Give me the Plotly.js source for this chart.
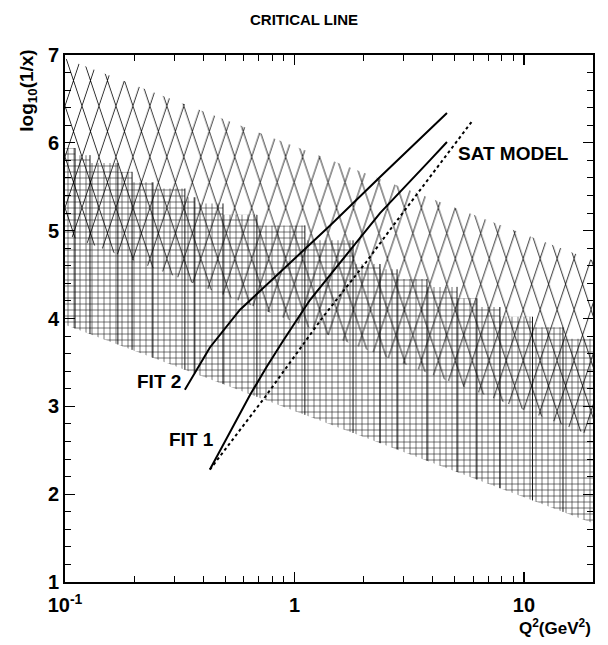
<!DOCTYPE html>
<html>
<head>
<meta charset="utf-8">
<script src="https://cdn.plot.ly/plotly-3.0.1.min.js"></script>
<style>
  html, body { margin: 0; padding: 0; background: #fff; }
  #chart { width: 608px; height: 645px; }
</style>
</head>
<body>
<div id="chart"></div>
<script>
// Saturation band (diamond hatch): ends in Q^2 with lower/upper log10(1/x)
const satBandQ2 = [0.1, 20];
const satBandLower = [4.96, 2.66];
const satBandUpper = [6.96, 4.66];

// Square-hatched region: bin edges in Q^2, stepped upper edge per bin, straight lower edge
const gridBinEdges = [0.1, 0.1106, 0.1285, 0.170, 0.196, 0.2416, 0.333, 0.368, 0.488, 0.686,
                      1.11, 1.80, 2.36, 2.80, 3.78, 5.11, 6.24, 7.86, 10.9, 14.8, 20];
const gridBinTop = [5.94, 5.86, 5.77, 5.67, 5.55, 5.48, 5.38, 5.31, 5.18, 5.06,
                    4.89, 4.62, 4.56, 4.45, 4.36, 4.23, 4.13, 4.02, 3.90, 3.77];
const gridLowerQ2 = [0.1, 20];
const gridLower = [3.93, 1.67];

// Critical lines
const fit2Q2 = [0.333, 0.428, 0.579, 0.865, 1.43, 2.36, 4.62];
const fit2 = [3.19, 3.67, 4.10, 4.53, 5.06, 5.61, 6.34];
const fit1Q2 = [0.428, 0.64, 0.757, 0.894, 1.168, 2.36, 3.89, 4.62];
const fit1 = [2.28, 3.13, 3.45, 3.75, 4.21, 5.20, 5.80, 6.01];
const satQ2 = [0.428, 0.744, 1.33, 2.05, 2.61, 5.92];
const sat = [2.28, 3.105, 4.016, 4.64, 5.01, 6.24];

// Curve labels: [text, Q^2, log10(1/x)]
const curveLabels = [
  ['FIT 2', 0.258, 3.28],
  ['FIT 1', 0.356, 2.62],
  ['SAT MODEL', 9.0, 5.88]
];

// Axis ticks
const xTickVals = [0.1, 1, 10];
const xTickText = ['10<sup>-1</sup>', '1', '10'];
const xMinorVals = [0.2, 0.3, 0.4, 0.5, 0.6, 0.7, 0.8, 0.9, 2, 3, 4, 5, 6, 7, 8, 9, 20];

const FONT = 'Liberation Sans, Arial, Helvetica, sans-serif';
const satHatch = { shape: 'x', size: 12, solidity: 0.09, fgcolor: '#000', fgopacity: 1, bgcolor: 'rgba(0,0,0,0)' };
const gridHatch = { shape: '+', size: 6, solidity: 0.2, fgcolor: '#000', fgopacity: 0.85, bgcolor: 'rgba(0,0,0,0)' };

// lower boundary of the square-hatched region at a given Q^2 (straight in log Q^2)
function gridLowerAt(q) {
  const a = Math.log10(gridLowerQ2[0]), b = Math.log10(gridLowerQ2[1]);
  const t = (Math.log10(q) - a) / (b - a);
  return gridLower[0] + t * (gridLower[1] - gridLower[0]);
}

// stepped outline of the square-hatched region
const gx = [], gy = [];
for (let i = 0; i < gridBinTop.length; i++) {
  gx.push(gridBinEdges[i], gridBinEdges[i + 1]);
  gy.push(gridBinTop[i], gridBinTop[i]);
}
for (let i = gridLowerQ2.length - 1; i >= 0; i--) {
  gx.push(gridLowerQ2[i]);
  gy.push(gridLower[i]);
}

// bin walls inside the square-hatched region
const wx = [], wy = [];
for (let i = 1; i < gridBinEdges.length - 1; i++) {
  const q = gridBinEdges[i];
  wx.push(q, q, null);
  wy.push(Math.max(gridBinTop[i - 1], gridBinTop[i]), gridLowerAt(q), null);
}

const traces = [
  {
    x: gx, y: gy, type: 'scatter', mode: 'lines', fill: 'toself',
    line: { width: 0 }, fillcolor: 'rgba(0,0,0,0)', fillpattern: gridHatch,
    hoverinfo: 'skip'
  },
  {
    x: wx, y: wy, type: 'scatter', mode: 'lines',
    line: { color: '#000', width: 0.9 }, connectgaps: false, hoverinfo: 'skip'
  },
  {
    x: [satBandQ2[0], satBandQ2[1], satBandQ2[1], satBandQ2[0]],
    y: [satBandLower[0], satBandLower[1], satBandUpper[1], satBandUpper[0]],
    type: 'scatter', mode: 'lines', fill: 'toself',
    line: { width: 0 }, fillcolor: 'rgba(0,0,0,0)', fillpattern: satHatch,
    hoverinfo: 'skip'
  },
  { x: fit2Q2, y: fit2, type: 'scatter', mode: 'lines', line: { color: '#000', width: 2 } },
  { x: fit1Q2, y: fit1, type: 'scatter', mode: 'lines', line: { color: '#000', width: 2 } },
  { x: satQ2, y: sat, type: 'scatter', mode: 'lines', line: { color: '#000', width: 2, dash: '3px,3px' } }
];
const SAT_BAND_INDEX = 2;

const annotations = curveLabels.map(([t, q, v]) => ({
  text: t, x: Math.log10(q), y: v, xref: 'x', yref: 'y',
  showarrow: false, xanchor: 'center', yanchor: 'middle',
  font: { family: FONT, size: 19, weight: 'bold', color: '#000' }
}));
annotations.push({
  text: 'log<sub>10</sub>(1/x)', textangle: -90,
  xref: 'paper', yref: 'paper', x: -0.07, y: 1.014, xanchor: 'center', yanchor: 'top',
  showarrow: false, font: { family: FONT, size: 19, weight: 'bold', color: '#000' }
});
annotations.push({
  text: 'Q<sup>2</sup>(GeV<sup>2</sup>)',
  xref: 'paper', yref: 'paper', x: 1.0, y: -0.086, xanchor: 'right', yanchor: 'middle',
  showarrow: false, font: { family: FONT, size: 17, weight: 'bold', color: '#000' }
});

const axisCommon = {
  showline: true, linewidth: 2, linecolor: '#000', mirror: 'ticks',
  ticks: 'inside', ticklen: 10, tickwidth: 1.3, tickcolor: '#000',
  showgrid: false, zeroline: false,
  tickfont: { family: FONT, size: 20, weight: 'bold', color: '#000' }
};

const layout = {
  width: 608, height: 645,
  margin: { l: 65, r: 15, t: 55, b: 63 },
  paper_bgcolor: '#fff', plot_bgcolor: '#fff',
  showlegend: false,
  title: {
    text: 'CRITICAL LINE', x: 0.5, xanchor: 'center', y: 0.969, yanchor: 'middle',
    font: { family: FONT, size: 15, weight: 'bold', color: '#000' }
  },
  xaxis: Object.assign({}, axisCommon, {
    type: 'log', range: [Math.log10(0.1), Math.log10(20)],
    tickmode: 'array', tickvals: xTickVals, ticktext: xTickText,
    ticklabelstandoff: 4,
    minor: { tickmode: 'array', tickvals: xMinorVals, ticks: 'inside', ticklen: 6, tickwidth: 1, tickcolor: '#000' }
  }),
  yaxis: Object.assign({}, axisCommon, {
    range: [1, 7], dtick: 1, tick0: 1,
    minor: { dtick: 0.2, ticks: 'inside', ticklen: 6, tickwidth: 1, tickcolor: '#000' }
  }),
  annotations: annotations
};

// stretch the band's cross hatch vertically so it forms tall diamonds
function stretchSatHatch(gd) {
  const groups = gd.querySelectorAll('.scatterlayer .trace');
  const g = groups[SAT_BAND_INDEX];
  if (!g) return;
  const fillPath = g.querySelector('.js-fill');
  if (!fillPath) return;
  const css = (fillPath.getAttribute('style') || '') + ' ' + (fillPath.getAttribute('fill') || '');
  const m = css.match(/#([A-Za-z0-9_-]+)/);
  if (!m) return;
  const pat = gd.querySelector('pattern[id="' + m[1] + '"]') || document.getElementById(m[1]);
  if (pat) pat.setAttribute('patternTransform', 'scale(1,3)');
}

Plotly.newPlot('chart', traces, layout, { staticPlot: true, displayModeBar: false }).then(gd => {
  stretchSatHatch(gd);
  requestAnimationFrame(() => stretchSatHatch(gd));
});
</script>
</body>
</html>
